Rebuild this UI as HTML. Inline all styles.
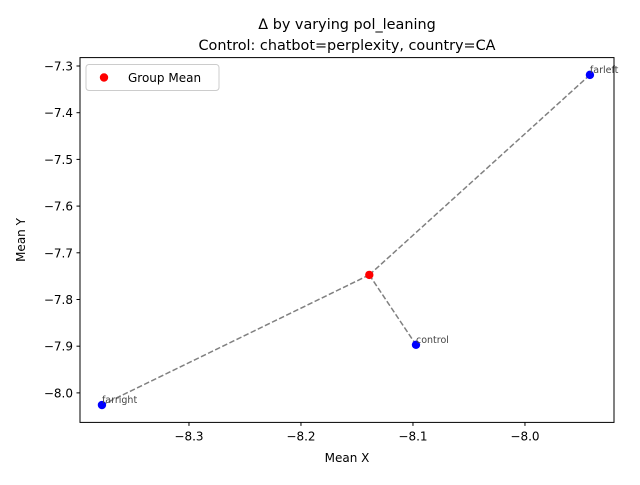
<!DOCTYPE html>
<html><head><meta charset="utf-8"><style>body{margin:0;background:#fff}svg{font-family:"DejaVu Sans","Liberation Sans",sans-serif}</style></head>
<body>
<svg id="c" width="640" height="480"></svg>
<script>
const labels=["farleft","control","farright"];
const xs=[-7.942,-8.0973,-8.3777];
const ys=[-7.319,-7.897,-8.026];
const xTicks=[-8.3,-8.2,-8.1,-8.0];
const yTicks=[-7.3,-7.4,-7.5,-7.6,-7.7,-7.8,-7.9,-8.0];
const L=80,R=614,T=57.6,B=422.4,x0=-8.3973,x1=-7.9205,y0=-8.0632,y1=-7.282;
const sx=v=>L+(v-x0)/(x1-x0)*(R-L), sy=v=>B-(v-y0)/(y1-y0)*(B-T);
const s=document.getElementById('c'),NS='http://www.w3.org/2000/svg';
function mk(t,a,p){const e=document.createElementNS(NS,t);for(const k in a)e.setAttribute(k,a[k]);(p||s).appendChild(e);return e;}
const mx=xs.reduce((a,b)=>a+b)/xs.length,my=ys.reduce((a,b)=>a+b)/ys.length;
let e;
xs.forEach((x,i)=>{e=mk('line',{x1:sx(mx),y1:sy(my),x2:sx(x),y2:sy(ys[i]),stroke:'#808080','stroke-width':1.5,'stroke-dasharray':'5.5,2.4'});

});
xs.forEach((x,i)=>{e=mk('circle',{cx:sx(x),cy:sy(ys[i]),r:4.2,fill:'#0000ff'});


e=mk('text',{x:sx(x),y:sy(ys[i])-2,'font-size':9.5,fill:'#444'});e.textContent=labels[i];

});
e=mk('circle',{cx:sx(mx),cy:sy(my),r:4.2,fill:'#ff0000'});


e=mk('rect',{x:L,y:T,width:R-L,height:B-T,fill:'none',stroke:'#000','stroke-width':1});


xTicks.forEach(t=>{const x=sx(t);mk('line',{x1:x,y1:B,x2:x,y2:B+3.5,stroke:'#000'});
e=mk('text',{x:x,y:B+18,'font-size':12,'text-anchor':'middle'});e.textContent='\u2212'+Math.abs(t).toFixed(1);

});
yTicks.forEach(t=>{const y=sy(t);mk('line',{x1:L,y1:y,x2:L-3.5,y2:y,stroke:'#000'});
e=mk('text',{x:L-7,y:y+4.5,'font-size':12,'text-anchor':'end'});e.textContent='\u2212'+Math.abs(t).toFixed(1);

});
e=mk('text',{x:(L+R)/2,y:462,'font-size':12,'text-anchor':'middle'});e.textContent='Mean X';


e=mk('text',{x:25,y:240,'font-size':12,'text-anchor':'middle',transform:'rotate(-90 25 240)'});e.textContent='Mean Y';


e=mk('text',{x:347,y:29,'font-size':14.4,'text-anchor':'middle'});e.textContent='\u0394 by varying pol_leaning';


e=mk('text',{x:347,y:50,'font-size':14.4,'text-anchor':'middle'});e.textContent='Control: chatbot=perplexity, country=CA';


const g=mk('g',{});


mk('rect',{x:86,y:64.5,width:133,height:26,rx:3,fill:'#fff',stroke:'#ccc'},g);
mk('circle',{cx:104,cy:77.5,r:4.2,fill:'#ff0000'},g);
e=mk('text',{x:128,y:82,'font-size':12},g);e.textContent='Group Mean';
</script>
</body></html>
